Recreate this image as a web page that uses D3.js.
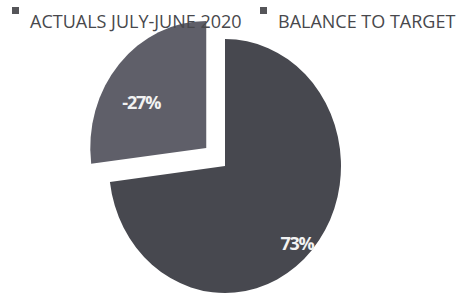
<!DOCTYPE html>
<html>
<head>
<meta charset="utf-8">
<script src="https://cdn.jsdelivr.net/npm/d3@7"></script>
<style>
body { margin: 0; background: #fff; }
</style>
</head>
<body>
<div class="container"></div>
<script>
var categories = ["ACTUALS JULY-JUNE 2020", "BALANCE TO TARGET"];
var values = [73, 27];
var labels = ["73%", "-27%"];
var colors = ["#47484f", "#5f5f69"];
var markerColor = "#555559";

const WIDTH = 469;
const HEIGHT = 296;
const RADIUS = 116;
const STRETCH = 1.095; // the scan is a bit taller than wide
const CX = 225;
const CY = 166;
const EXPLODE = 25;

var translate = function(x, y){
	return "translate(" + x + "," + y + ")";
};

var svg = d3.select('.container').append('svg')
	.attr('width', WIDTH)
	.attr('height', HEIGHT);

var pie = d3.pie().sort(null).value(function(d){ return d; });
var arcs = pie(values);

var arc = d3.arc().innerRadius(0).outerRadius(RADIUS);

var offset = function(d, i){
	if (i === 0) return [0, 0];
	var a = (d.startAngle + d.endAngle) / 2;
	return [Math.sin(a) * EXPLODE, -Math.cos(a) * EXPLODE];
};

var pieG = svg.append('g')
	.attr('transform', translate(CX, CY) + " scale(1," + STRETCH + ")");

pieG.selectAll('path').data(arcs)
	.enter().append('path')
	.attr('transform', function(d, i){ var o = offset(d, i); return translate(o[0], o[1]); })
	.attr('d', arc)
	.attr('fill', function(d, i){ return colors[i]; });

// label spots
var labelPos = [[72, 78], [-65, -45]];

var labelG = svg.append('g').attr('transform', translate(CX, CY));

labelG.selectAll('text').data(arcs)
	.enter().append('text')
	.attr('transform', function(d, i){
		var o = offset(d, i);
		return translate(o[0] + labelPos[i][0], o[1] * STRETCH + labelPos[i][1]);
	})
	.attr('text-anchor', 'middle')
	.attr('dy', '0.35em')
	.style('font-family', 'Open Sans, sans-serif')
	.style('font-weight', 'bold')
	.style('font-size', '18px')
	.style('letter-spacing', '-1.2px')
	.attr('fill', '#f2f2f2')
	.text(function(d, i){ return labels[i]; });

// legend
var legendX = [12, 260];
var legend = svg.selectAll('g.legend').data(categories)
	.enter().append('g')
	.classed('legend', true)
	.attr('transform', function(d, i){ return translate(legendX[i], 0); });

legend.append('rect')
	.attr('x', 0).attr('y', 7)
	.attr('width', 7).attr('height', 7)
	.attr('fill', markerColor);

legend.append('text')
	.attr('x', 18).attr('y', 28)
	.style('font-family', 'Open Sans, sans-serif')
	.style('font-size', '18px')
	.attr('fill', '#48484c')
	.text(function(d){ return d; });
</script>
</body>
</html>
